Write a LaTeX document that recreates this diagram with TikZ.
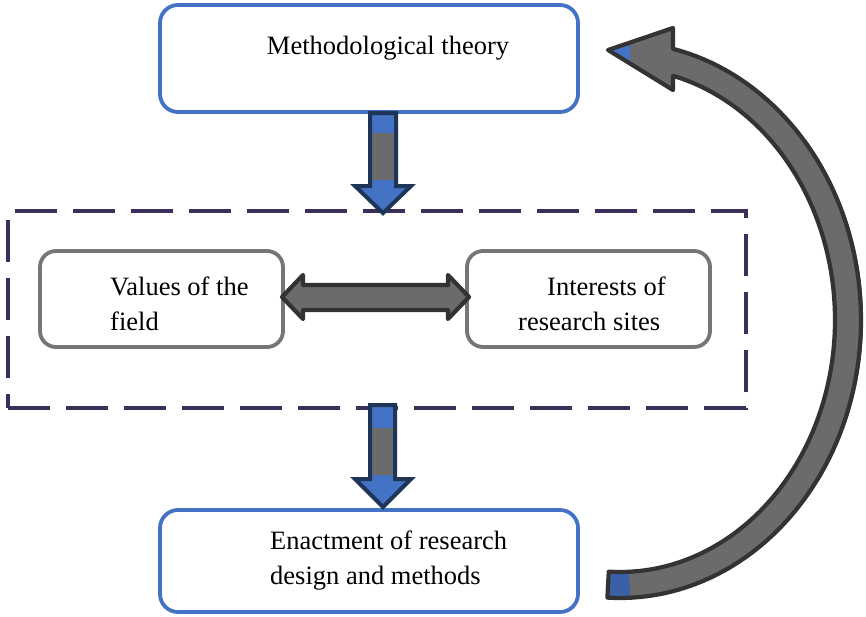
\documentclass[tikz,border=0pt]{standalone}
\usepackage{fontspec}
\setmainfont{Liberation Serif}
\definecolor{boxblue}{HTML}{4472C4}
\definecolor{navy}{HTML}{1F3558}
\definecolor{boxgray}{HTML}{767676}
\definecolor{arrgray}{HTML}{6B6B6B}
\definecolor{arredge}{HTML}{333333}
\definecolor{dashpurple}{HTML}{3B2E58}
\begin{document}
\begin{tikzpicture}[x=1pt,y=-1pt,
  txt/.style={font=\fontsize{26.5}{35}\selectfont, inner sep=0pt, align=left},
  bluebox/.style={draw=boxblue, line width=3.8pt, rounded corners=18pt, fill=white},
  graybox/.style={draw=boxgray, line width=3.8pt, rounded corners=16pt, fill=white},
  frame/.style={draw=dashpurple, line width=3.3pt, dash pattern=on 42pt off 16pt},
  grayblock/.style={fill=arrgray, draw=arredge, line width=4.2pt, line join=round}
]
\useasboundingbox (0,0) rectangle (866,616);

% dashed frame
\node[frame, minimum width=738pt, minimum height=197pt, inner sep=0pt] (frame) at (377,309.5) {};

% boxes
\node[bluebox, minimum width=418pt, minimum height=107pt, inner sep=0pt] (theory) at (369,58.5) {};
\node[txt] (theorytext) at (388,48) {Methodological theory};

\node[bluebox, minimum width=418pt, minimum height=102pt, inner sep=0pt] (enact) at (369,561) {};
\node[txt, anchor=west] (enacttext) at (270,561) {Enactment of research\\design and methods};

\node[graybox, minimum width=243pt, minimum height=96pt, inner sep=0pt] (values) at (161.5,299) {};
\node[txt, anchor=west] (valuestext) at (110,303.5) {Values of the\\field};

\node[graybox, minimum width=243pt, minimum height=96pt, inner sep=0pt] (interests) at (588.5,299) {};
\node[txt, anchor=west] (intereststext) at (518,303.5) {\hspace*{29pt}Interests of\\research sites};

% down arrow 1 (theory -> frame)
\fill[boxblue] (370,113) -- (396,113) -- (396,186) -- (411,186) -- (383,213) -- (355,186) -- (370,186) -- cycle;
\fill[arrgray] (372,133) rectangle (397,180);
\draw[navy, line width=4pt, line join=miter] (370,113) -- (396,113) -- (396,186) -- (411,186) -- (383,213) -- (355,186) -- (370,186) -- cycle;

% down arrow 2 (frame -> enact)
\fill[boxblue] (370,405) -- (395,405) -- (395,479) -- (411,479) -- (383,507) -- (355,479) -- (370,479) -- cycle;
\fill[arrgray] (372,428) rectangle (397,475);
\draw[navy, line width=4pt, line join=miter] (370,405) -- (395,405) -- (395,479) -- (411,479) -- (383,507) -- (355,479) -- (370,479) -- cycle;

% double arrow (values <-> interests)
\draw[grayblock] (282,297) -- (303,275) -- (303,285) -- (448,285) -- (448,275) -- (469,297) -- (448,319) -- (448,310) -- (303,310) -- (303,319) -- cycle;

% curved feedback arrow (enact -> theory)
\fill[arrgray] plot[domain=93:-77.3,samples=90] ({620+241*cos(\x)},{320+278*sin(\x)})
  -- (673,28) -- (608,50) -- (673,90)
  -- plot[domain=-75.7:93,samples=90] ({620+215*cos(\x)},{320+252*sin(\x)}) -- cycle;
\fill[boxblue!85!black] plot[domain=93:87.6,samples=10] ({620+241*cos(\x)},{320+278*sin(\x)})
  -- plot[domain=87.6:93,samples=10] ({620+215*cos(\x)},{320+252*sin(\x)}) -- cycle;
\fill[boxblue] (609,50) -- (630,42.6) -- (630,63.5) -- cycle;
\draw[boxblue!80!black, line width=2pt] plot[domain=-40:35,samples=60] ({620+242*cos(\x)},{320+279*sin(\x)});
\draw[arredge, line width=4.2pt, line join=round] plot[domain=93:-77.3,samples=90] ({620+241*cos(\x)},{320+278*sin(\x)})
  -- (673,28) -- (608,50) -- (673,90)
  -- plot[domain=-75.7:93,samples=90] ({620+215*cos(\x)},{320+252*sin(\x)}) -- cycle;
\end{tikzpicture}
\end{document}
